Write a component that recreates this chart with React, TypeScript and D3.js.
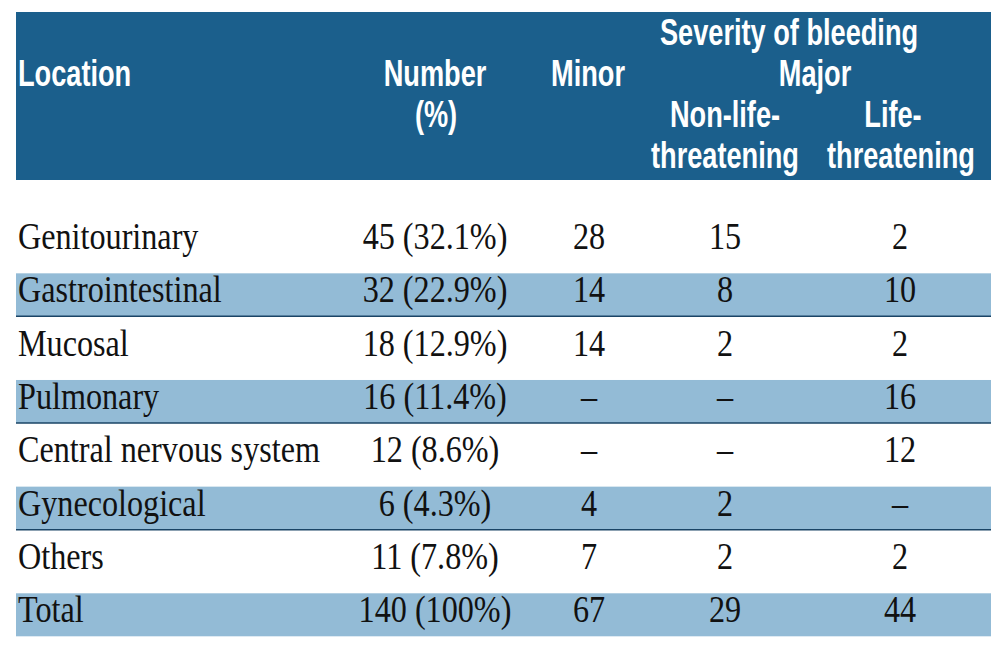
import React from "react";
import * as d3 from "d3";

const locations = ["Genitourinary", "Gastrointestinal", "Mucosal", "Pulmonary", "Central nervous system", "Gynecological", "Others", "Total"];
const numberPct = ["45 (32.1%)", "32 (22.9%)", "18 (12.9%)", "16 (11.4%)", "12 (8.6%)", "6 (4.3%)", "11 (7.8%)", "140 (100%)"];
const minor = ["28", "14", "14", "–", "–", "4", "7", "67"];
const nonLife = ["15", "8", "2", "–", "–", "2", "2", "29"];
const life = ["2", "10", "2", "16", "12", "–", "2", "44"];

const W = 1002;
const H = 654;
const HEADER_BG = "#1b5f8c";
const BAND_BG = "#93bbd6";
const LINE = "#1a4466";
const BODY_FONT = "'Liberation Serif', 'DejaVu Serif', serif";
const HEAD_FONT = "'Liberation Sans', Arial, sans-serif";

const BODY_SX = 0.87;
const HEAD_SX = 0.755;

function T({ x, y, anchor = "start", sx, font, size, weight, fill, children }: any) {
  return (
    <text
      transform={`translate(${x},${y}) scale(${sx},1)`}
      textAnchor={anchor}
      fontFamily={font}
      fontSize={size}
      fontWeight={weight}
      fill={fill}
    >
      {children}
    </text>
  );
}

export default function App() {
  const left = 16;
  const right = 991;
  const rowY = d3
    .scaleLinear()
    .domain([0, locations.length - 1])
    .range([249, 622.3]);
  const colX = { loc: 18, num: 435, minor: 589, non: 725, life: 900 };

  const H2 = (x: number, y: number, s: string, anchor = "middle") => (
    <T x={x} y={y} anchor={anchor} sx={HEAD_SX} font={HEAD_FONT} size={36} weight="bold" fill="#ffffff">
      {s}
    </T>
  );
  const B = (x: number, y: number, s: string, anchor = "middle") => (
    <T x={x} y={y} anchor={anchor} sx={BODY_SX} font={BODY_FONT} size={37} weight="normal" fill="#111111">
      {s}
    </T>
  );

  return (
    <svg width={W} height={H} style={{ position: "absolute", left: 0, top: 0, background: "#fff" }}>
      <rect x={left} y={12} width={right - left} height={168} fill={HEADER_BG} />
      {H2(18, 86, "Location", "start")}
      {H2(435, 86, "Number")}
      {H2(436, 127, "(%)")}
      {H2(588, 86, "Minor")}
      {H2(789, 45, "Severity of bleeding")}
      {H2(815, 86, "Major")}
      {H2(725, 127, "Non-life-")}
      {H2(725, 168, "threatening")}
      {H2(893, 127, "Life-")}
      {H2(901, 168, "threatening")}

      {locations.map((loc, i) => {
        const y = rowY(i);
        const shaded = i % 2 === 1;
        const isTotal = i === locations.length - 1;
        return (
          <g key={loc}>
            {shaded && (
              <rect x={left} y={y - 29} width={right - left} height={43} fill={BAND_BG} />
            )}
            {shaded && !isTotal && (
              <line x1={left} x2={right} y1={y + 14} y2={y + 14} stroke={LINE} strokeWidth={1.5} />
            )}
            {B(colX.loc, y, loc, "start")}
            {B(colX.num, y, numberPct[i])}
            {B(colX.minor, y, minor[i])}
            {B(colX.non, y, nonLife[i])}
            {B(colX.life, y, life[i])}
          </g>
        );
      })}
    </svg>
  );
}
